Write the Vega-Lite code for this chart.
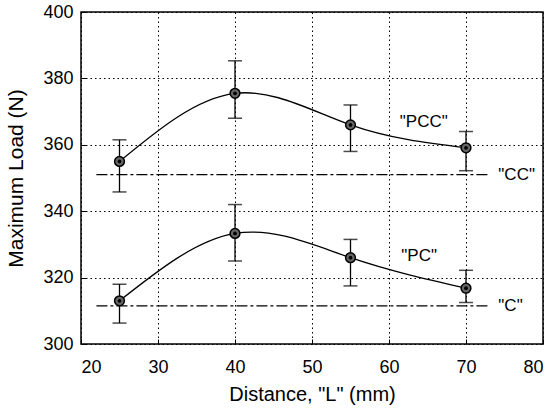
{
  "$schema": "https://vega.github.io/schema/vega-lite/v6.json",
  "autosize": "none",
  "width": 462,
  "height": 332,
  "padding": {"left": 81, "top": 12, "right": 12, "bottom": 64},
  "config": {
    "font": "Liberation Sans",
    "view": {"stroke": "#000", "strokeWidth": 1.5},
    "axis": {
      "domain": false,
      "grid": true,
      "gridColor": "#000",
      "gridDash": [1.5, 3],
      "gridOpacity": 1,
      "gridWidth": 1,
      "tickColor": "#000",
      "tickSize": -5,
      "tickWidth": 1,
      "labelFont": "Liberation Sans",
      "labelFontSize": 18,
      "labelColor": "#000",
      "titleFont": "Liberation Sans",
      "titleFontSize": 20,
      "titleFontWeight": "normal",
      "titleColor": "#000"
    }
  },
  "datasets": {
    "pts": [
      {"series": "PCC", "x": 25, "y": 355, "lo": 345.8, "hi": 361.5},
      {"series": "PCC", "x": 40, "y": 375.5, "lo": 368, "hi": 385.3},
      {"series": "PCC", "x": 55, "y": 366, "lo": 358, "hi": 372},
      {"series": "PCC", "x": 70, "y": 359.1, "lo": 352.2, "hi": 364},
      {"series": "PC", "x": 25, "y": 313, "lo": 306.3, "hi": 318},
      {"series": "PC", "x": 40, "y": 333.3, "lo": 325, "hi": 342},
      {"series": "PC", "x": 55, "y": 326, "lo": 317.5, "hi": 331.5},
      {"series": "PC", "x": 70, "y": 316.8, "lo": 312.5, "hi": 322.2}
    ],
    "refs": [
      {"series": "CC", "x": 22, "y": 351},
      {"series": "CC", "x": 72.9, "y": 351},
      {"series": "C", "x": 22, "y": 311.5},
      {"series": "C", "x": 72.9, "y": 311.5}
    ],
    "labels": [
      {"label": "\"PCC\"", "x": 61.4, "y": 367},
      {"label": "\"PC\"", "x": 61.6, "y": 326.5},
      {"label": "\"CC\"", "x": 74.2, "y": 351},
      {"label": "\"C\"", "x": 74.2, "y": 311.5}
    ]
  },
  "layer": [
    {
      "data": {"name": "refs"},
      "mark": {"type": "line", "color": "#000", "strokeWidth": 1.3, "strokeDash": [11, 3, 3, 3]},
      "encoding": {
        "x": {"field": "x", "type": "quantitative", "scale": {"domain": [20, 80], "nice": false}, "axis": {"values": [20, 30, 40, 50, 60, 70, 80], "title": "Distance, \"L\" (mm)", "labelPadding": 19, "titlePadding": 8}},
        "y": {"field": "y", "type": "quantitative", "scale": {"domain": [300, 400], "nice": false, "zero": false}, "axis": {"values": [300, 320, 340, 360, 380, 400], "title": "Maximum Load (N)", "titleFontSize": 21, "labelPadding": 13, "titlePadding": 16}},
        "detail": {"field": "series"}
      }
    },
    {
      "data": {"name": "pts"},
      "mark": {"type": "line", "color": "#000", "strokeWidth": 1.3, "interpolate": "natural"},
      "encoding": {
        "x": {"field": "x", "type": "quantitative"},
        "y": {"field": "y", "type": "quantitative"},
        "detail": {"field": "series"}
      }
    },
    {
      "data": {"name": "pts"},
      "mark": {"type": "rule", "color": "#000", "strokeWidth": 1.3},
      "encoding": {
        "x": {"field": "x", "type": "quantitative"},
        "y": {"field": "lo", "type": "quantitative"},
        "y2": {"field": "hi"}
      }
    },
    {
      "data": {"name": "pts"},
      "mark": {"type": "tick", "color": "#000", "orient": "horizontal", "size": 14, "thickness": 1.5},
      "encoding": {
        "x": {"field": "x", "type": "quantitative"},
        "y": {"field": "lo", "type": "quantitative"}
      }
    },
    {
      "data": {"name": "pts"},
      "mark": {"type": "tick", "color": "#000", "orient": "horizontal", "size": 14, "thickness": 1.5},
      "encoding": {
        "x": {"field": "x", "type": "quantitative"},
        "y": {"field": "hi", "type": "quantitative"}
      }
    },
    {
      "data": {"name": "pts"},
      "mark": {"type": "point", "shape": "circle", "filled": true, "fill": "#666", "stroke": "#000", "strokeWidth": 1.5, "size": 95, "opacity": 1},
      "encoding": {
        "x": {"field": "x", "type": "quantitative"},
        "y": {"field": "y", "type": "quantitative"}
      }
    },
    {
      "data": {"name": "pts"},
      "mark": {"type": "point", "shape": "circle", "filled": true, "color": "#000", "size": 14, "opacity": 1},
      "encoding": {
        "x": {"field": "x", "type": "quantitative"},
        "y": {"field": "y", "type": "quantitative"}
      }
    },
    {
      "data": {"name": "labels"},
      "mark": {"type": "text", "align": "left", "baseline": "middle", "fontSize": 17, "font": "Liberation Sans", "color": "#000"},
      "encoding": {
        "x": {"field": "x", "type": "quantitative"},
        "y": {"field": "y", "type": "quantitative"},
        "text": {"field": "label"}
      }
    }
  ]
}
